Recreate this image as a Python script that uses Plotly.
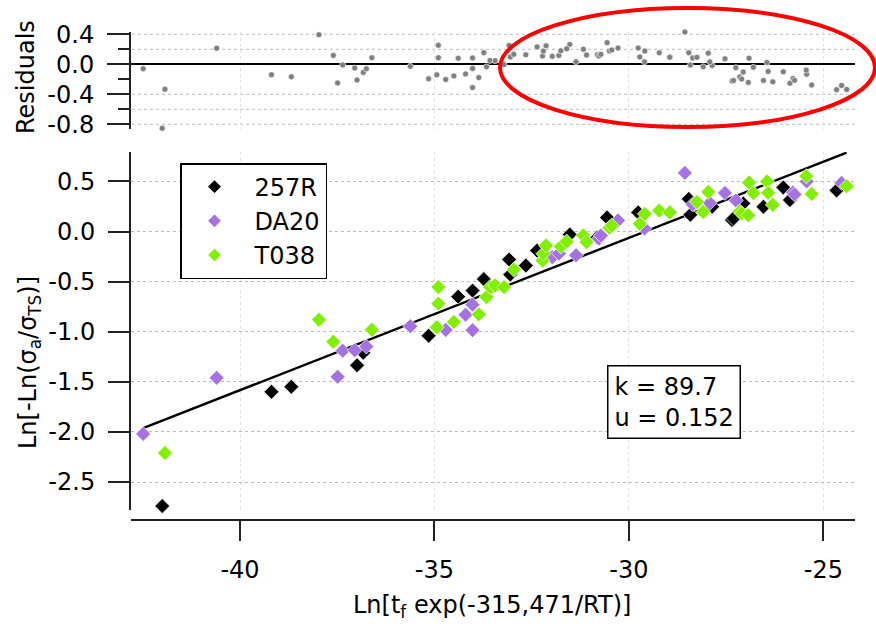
import numpy as np
import plotly.graph_objects as go

# Weibull-type fit parameters
K = 89.7
U = 0.152

# Series: Ln[t_f exp(-315,471/RT)]  vs  Ln[-Ln(sigma_a/sigma_TS)]
BLK_X = [-42.0, -39.19, -38.68, -36.99, -36.83, -35.15, -34.39, -34.02, -33.73, -33.08,
         -33.05, -32.65, -32.36, -31.52, -30.81, -30.56, -29.76, -28.46, -28.42, -27.86,
         -27.35, -27.31, -27.06, -26.54, -26.03, -25.86, -24.66]
BLK_Y = [-2.74, -1.60, -1.55, -1.335, -1.21, -1.04, -0.65, -0.59, -0.475, -0.28,
         -0.43, -0.34, -0.19, -0.03, -0.06, 0.14, 0.19, 0.325, 0.167, 0.247,
         0.115, 0.13, 0.28, 0.247, 0.44, 0.314, 0.41]

PUR_X = [-42.49, -40.6, -37.49, -37.36, -37.05, -36.75, -35.62, -34.71, -34.2, -34.02,
         -34.02, -31.97, -31.8, -31.36, -30.77, -30.72, -30.28, -29.6, -28.94, -28.56,
         -28.36, -27.92, -27.53, -27.25, -25.78, -25.74, -25.43, -24.53]
PUR_Y = [-2.02, -1.46, -1.45, -1.19, -1.185, -1.148, -0.945, -0.982, -0.83, -0.73,
         -0.985, -0.257, -0.22, -0.236, -0.07, -0.04, 0.11, 0.03, 0.195, 0.585,
         0.27, 0.285, 0.385, 0.31, 0.39, 0.37, 0.50, 0.485]

GRN_X = [-41.93, -37.97, -37.6, -36.61, -34.94, -34.9, -34.9, -34.5, -33.86, -33.66,
         -33.57, -33.44, -33.21, -32.96, -32.22, -32.2, -32.13, -31.75, -31.6, -31.17,
         -31.09, -30.5, -30.44, -29.72, -29.59, -29.22, -28.95, -28.25, -28.09, -27.96,
         -27.15, -27.1, -26.93, -26.91, -26.8, -26.45, -26.42, -26.3, -25.44, -25.3, -24.4]
GRN_Y = [-2.21, -0.88, -1.10, -0.98, -0.955, -0.72, -0.555, -0.903, -0.827, -0.654,
         -0.555, -0.538, -0.555, -0.38, -0.29, -0.222, -0.14, -0.15, -0.10, -0.04,
         -0.106, 0.037, 0.06, 0.077, 0.176, 0.209, 0.19, 0.295, 0.195, 0.395,
         0.2, 0.18, 0.162, 0.488, 0.383, 0.5, 0.386, 0.266, 0.552, 0.375, 0.452]

SERIES = [
    ("257R", BLK_X, BLK_Y, "#000000"),
    ("DA20", PUR_X, PUR_Y, "#a472e2"),
    ("T038", GRN_X, GRN_Y, "#80f000"),
]

MAIN_TICKS = [0.5, 0.0, -0.5, -1.0, -1.5, -2.0, -2.5]
MAIN_TICK_TEXT = ["0.5", "0.0", "-0.5", "-1.0", "-1.5", "-2.0", "-2.5"]
X_TICKS = [-40, -35, -30, -25]
X_TICK_TEXT = ["-40", "-35", "-30", "-25"]
RES_TICKS = [0.4, 0.0, -0.4, -0.8]
RES_TICK_TEXT = ["0.4", "0.0", "-0.4", "-0.8"]
RES_MINOR = [0.2, -0.2, -0.6]
RES_GRID = [0.4, 0.2, -0.4, -0.6, -0.8]

W, H = 876, 626
FONT = "DejaVu Sans"
AX = "#222222"


def fit(x):
    return U * np.asarray(x, dtype=float) + np.log(K)


def px(p):
    return p / W


def py(p):
    return 1 - p / H


all_x = np.concatenate([np.asarray(s[1], dtype=float) for s in SERIES])
all_y = np.concatenate([np.asarray(s[2], dtype=float) for s in SERIES])
resid = all_y - fit(all_x)

fig = go.Figure()

# residuals panel
fig.add_trace(go.Scatter(
    x=all_x, y=resid, mode="markers", xaxis="x2", yaxis="y2",
    marker=dict(symbol="circle", size=6, color="#808080",
                line=dict(color="white", width=0.6)),
    showlegend=False, cliponaxis=False, hoverinfo="skip"))

# fitted line
line_x = np.array([all_x.min(), all_x.max()])
fig.add_trace(go.Scatter(
    x=line_x, y=fit(line_x), mode="lines",
    line=dict(color="black", width=2.4), showlegend=False, hoverinfo="skip"))

for name, xs, ys, col in SERIES:
    fig.add_trace(go.Scatter(
        x=xs, y=ys, mode="markers", name=name,
        marker=dict(symbol="diamond", size=11.5, color=col,
                    line=dict(color="white", width=0.7)),
        cliponaxis=False))

x_dom = [px(131), px(855)]
x_rng = [-40 + (131 - 240) / 38.89, -40 + (855 - 240) / 38.89]

axis_common = dict(ticks="outside", tickwidth=2, tickcolor=AX, showline=True,
                   linecolor=AX, linewidth=2, zeroline=False, automargin=False,
                   tickfont=dict(family=FONT, size=24, color="black"))

fig.update_layout(
    width=W, height=H, autosize=False,
    margin=dict(l=0, r=0, t=0, b=0, pad=0),
    paper_bgcolor="white", plot_bgcolor="white",
    font=dict(family=FONT, size=24, color="black"),
    xaxis=dict(domain=x_dom, range=x_rng, anchor="free", position=py(520),
               tickmode="array", tickvals=X_TICKS, ticktext=X_TICK_TEXT,
               ticklen=20, ticklabelstandoff=8,
               showgrid=True, gridcolor="#e2e2e2", griddash="dot", gridwidth=1,
               **axis_common),
    yaxis=dict(domain=[py(510), py(152)], range=[(231.5 - 510) / 100.2, (231.5 - 152) / 100.2],
               anchor="x", tickmode="array", tickvals=MAIN_TICKS, ticktext=MAIN_TICK_TEXT,
               ticklen=21, ticklabelstandoff=8,
               showgrid=True, gridcolor="#bcbcbc", griddash="dot", gridwidth=1,
               **axis_common),
    xaxis2=dict(domain=x_dom, range=x_rng, anchor="y2", matches="x", automargin=False,
                showticklabels=False, ticks="", showline=False, zeroline=False,
                showgrid=True, gridcolor="#e2e2e2", griddash="dot", gridwidth=1,
                tickmode="array", tickvals=X_TICKS),
    yaxis2=dict(domain=[py(128.5), py(32)], range=[(64.3 - 128.5) / 75, (64.3 - 32) / 75],
                anchor="x2", automargin=False,
                tickmode="array", tickvals=RES_TICKS, ticktext=RES_TICK_TEXT,
                ticks="outside", ticklen=22, tickwidth=2, tickcolor=AX,
                ticklabelstandoff=8,
                minor=dict(tickmode="array", tickvals=RES_MINOR, ticks="outside",
                           ticklen=11, tickwidth=2, tickcolor=AX, showgrid=False),
                showline=True, linecolor=AX, linewidth=2, showgrid=False,
                zeroline=True, zerolinecolor="black", zerolinewidth=1.5,
                tickfont=dict(family=FONT, size=24, color="black")),
    legend=dict(x=px(180), y=py(163), xanchor="left", yanchor="top",
                bgcolor="white", bordercolor="black", borderwidth=1.5,
                font=dict(family=FONT, size=24, color="black"),
                itemsizing="constant", tracegroupgap=0,
                indentation=-7, itemwidth=70),
    showlegend=True,
)

shapes = []
for v in RES_GRID:
    shapes.append(dict(type="line", xref="paper", yref="y2", x0=px(132), x1=px(855),
                       y0=v, y1=v, layer="below",
                       line=dict(color="#bcbcbc", width=1, dash="dot")))
# highlight ellipse around the upper-range residuals
shapes.append(dict(type="circle", xref="paper", yref="paper",
                   x0=px(500), x1=px(875), y0=py(127), y1=py(8),
                   line=dict(color="#ff0000", width=4)))
fig.update_layout(shapes=shapes)

annotations = [
    dict(text="Residuals", textangle=-90, x=px(26), y=py(77), xref="paper", yref="paper",
         xanchor="center", yanchor="middle", showarrow=False,
         font=dict(family=FONT, size=24)),
    dict(text="Ln[-Ln(σ<sub>a</sub>/σ<sub>TS</sub>)]", textangle=-90,
         x=px(29), y=py(363), xref="paper", yref="paper",
         xanchor="center", yanchor="middle", showarrow=False,
         font=dict(family=FONT, size=24)),
    dict(text="Ln[t<sub>f</sub> exp(-315,471/RT)]", x=px(492), y=py(606),
         xref="paper", yref="paper", xanchor="center", yanchor="middle",
         showarrow=False, font=dict(family=FONT, size=24)),
    dict(text=f"k = {K:.1f}<br>u = {U:.3f}", x=px(607), y=py(365),
         xref="paper", yref="paper", xanchor="left", yanchor="top", align="left",
         showarrow=False, bordercolor="black", borderwidth=1.5, borderpad=6,
         bgcolor="white", font=dict(family=FONT, size=24)),
]
fig.update_layout(annotations=annotations)

fig.write_html("out.html")
